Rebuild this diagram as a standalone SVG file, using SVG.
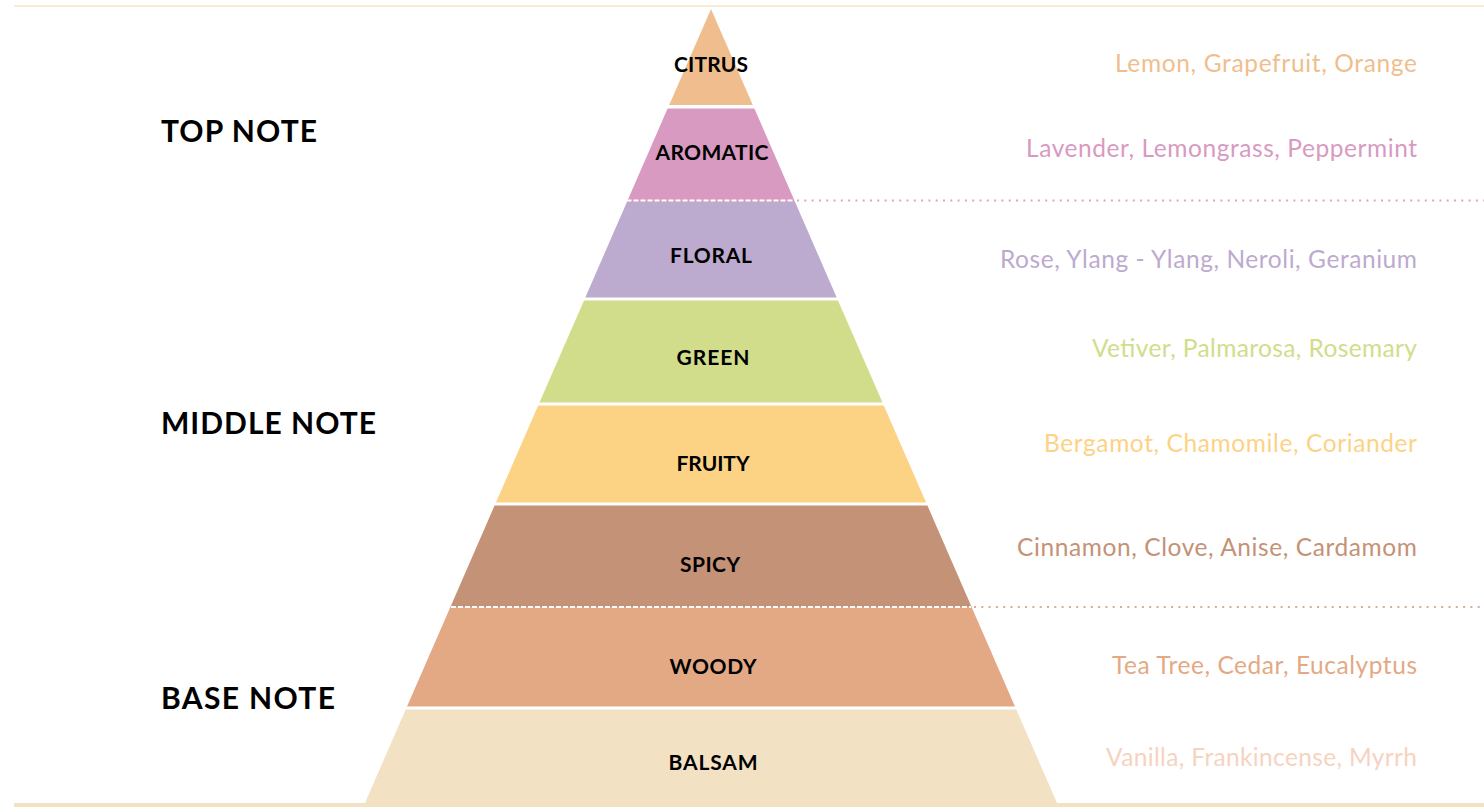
<svg xmlns="http://www.w3.org/2000/svg" width="1484" height="807" viewBox="0 0 1484 807">
<style>
  .band-label { font-family: Lato, "Liberation Sans", sans-serif; font-weight: 700; font-size: 21px; fill: #000; text-anchor: middle; }
  .note-label { font-family: Lato, "Liberation Sans", sans-serif; font-weight: 700; font-size: 30px; fill: #000; }
  .ingredients { font-family: Lato, "Liberation Sans", sans-serif; font-weight: 400; font-size: 24.5px; text-anchor: end; }
  .sep-white { stroke: #ffffff; stroke-width: 2; stroke-dasharray: 5 2; fill: none; }
  .dots { stroke-width: 2; stroke-dasharray: 2 5.3; fill: none; }
</style>
<rect x="0" y="0" width="1484" height="807" fill="#ffffff"/>
<line x1="14" y1="6" x2="1484" y2="6" stroke="#F5E4C8" stroke-width="1.6"/>
<rect x="14" y="803" width="1470" height="4" fill="#F2E1C3"/>

<g id="citrus">
  <polygon points="711,9 752.8,105 669.2,105" fill="#F0BE8E"/>
  <text class="band-label" x="711" y="72" textLength="74">CITRUS</text>
  <text class="ingredients" x="1417" y="72" fill="#F0BE8E" textLength="302">Lemon, Grapefruit, Orange</text>
</g>
<g id="aromatic">
  <polygon points="667.6,108.5 754.4,108.5 795.1,202 626.9,202" fill="#D89AC1"/>
  <text class="band-label" x="712" y="160" textLength="113">AROMATIC</text>
  <text class="ingredients" x="1417" y="157" fill="#D89AC1" textLength="391">Lavender, Lemongrass, Peppermint</text>
</g>
<g id="floral">
  <polygon points="626.9,202 795.1,202 836.7,297.5 585.3,297.5" fill="#BDAACF"/>
  <text class="band-label" x="711" y="263" textLength="82">FLORAL</text>
  <text class="ingredients" x="1417" y="268" fill="#BDAACF" textLength="417">Rose, Ylang - Ylang, Neroli, Geranium</text>
</g>
<g id="green">
  <polygon points="584,300.5 838,300.5 882.5,402.5 539.5,402.5" fill="#D1DD8B"/>
  <text class="band-label" x="713" y="365" textLength="73">GREEN</text>
  <text class="ingredients" x="1417" y="357" fill="#D1DD8B" textLength="325">Vetiver, Palmarosa, Rosemary</text>
</g>
<g id="fruity">
  <polygon points="538.2,405.5 883.8,405.5 926.1,502.5 495.9,502.5" fill="#FCD385"/>
  <text class="band-label" x="713" y="471" textLength="73">FRUITY</text>
  <text class="ingredients" x="1417" y="452" fill="#FCD385" textLength="373">Bergamot, Chamomile, Coriander</text>
</g>
<g id="spicy">
  <polygon points="494.6,505.5 927.4,505.5 971.6,607 450.4,607" fill="#C49276"/>
  <text class="band-label" x="710" y="572" textLength="60">SPICY</text>
  <text class="ingredients" x="1417" y="556" fill="#C49276" textLength="400">Cinnamon, Clove, Anise, Cardamom</text>
</g>
<g id="woody">
  <polygon points="450.4,607 971.6,607 1015,706.5 407,706.5" fill="#E3A985"/>
  <text class="band-label" x="713" y="674" textLength="87">WOODY</text>
  <text class="ingredients" x="1417" y="674" fill="#E3A985" textLength="305">Tea Tree, Cedar, Eucalyptus</text>
</g>
<g id="balsam">
  <polygon points="405.7,709.5 1016.3,709.5 1057,803 365,803" fill="#F2E1C3"/>
  <text class="band-label" x="713" y="770" textLength="89">BALSAM</text>
  <text class="ingredients" x="1417" y="766" fill="#F6D3C1" textLength="311">Vanilla, Frankincense, Myrrh</text>
</g>

<g id="top-note"><text class="note-label" x="161" y="142" textLength="156">TOP NOTE</text></g>
<g id="middle-note"><text class="note-label" x="161" y="434" textLength="215">MIDDLE NOTE</text></g>
<g id="base-note"><text class="note-label" x="161" y="709" textLength="174">BASE NOTE</text></g>

<g id="connectors">
  <line class="sep-white" x1="626.5" y1="200.5" x2="795.5" y2="200.5"/>
  <line class="dots" x1="797" y1="200.5" x2="1484" y2="200.5" stroke="#DDA6C8"/>
  <line class="sep-white" x1="451" y1="607" x2="971" y2="607"/>
  <line class="dots" x1="974" y1="607" x2="1484" y2="607" stroke="#D6AD96"/>
</g>
</svg>
